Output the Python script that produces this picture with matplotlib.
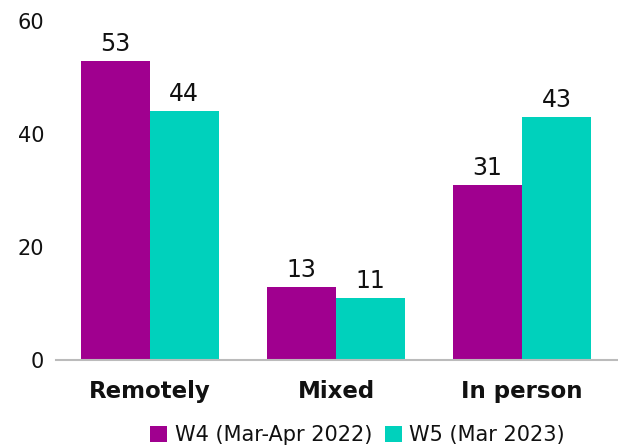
import matplotlib
matplotlib.use("Agg")
import matplotlib.pyplot as plt
import numpy as np

categories = ["Remotely", "Mixed", "In person"]
w4 = [53, 13, 31]
w5 = [44, 11, 43]
series_names = ["W4 (Mar-Apr 2022)", "W5 (Mar 2023)"]
yticks = [0, 20, 40, 60]

purple = "#A0008F"
teal = "#00D1BC"
txt = "#111111"

plt.rcParams['font.family'] = ['DejaVu Sans']

fig = plt.figure(figsize=(6.18, 4.48), dpi=100)
ax = fig.add_axes([0.0906, 0.196, 0.9094, 0.757])

x = np.arange(len(categories))
w = 0.37
b1 = ax.bar(x - w/2, w4, w, color=purple, label=series_names[0])
b2 = ax.bar(x + w/2, w5, w, color=teal, label=series_names[1])

for bars, vals in ((b1, w4), (b2, w5)):
    for rect, v in zip(bars, vals):
        ax.text(rect.get_x() + rect.get_width()/2, v + 0.9, str(v),
                ha='center', va='bottom', fontsize=17, color=txt)

ax.set_xlim(-0.505, 2.516)
ax.set_ylim(0, 60)
ax.set_yticks(yticks)
ax.set_yticklabels([str(t) for t in yticks], fontsize=15, color=txt)
ax.set_xticks(x)
ax.set_xticklabels(categories, fontsize=16.5, fontweight='bold', color=txt)
ax.tick_params(axis='y', length=0, pad=8.6)
ax.tick_params(axis='x', length=0, pad=14)
for s in ['top', 'right', 'left']:
    ax.spines[s].set_visible(False)
ax.spines['bottom'].set_color('#BBBBBB')
ax.spines['bottom'].set_linewidth(1.5)

fig.legend(handles=[b1, b2], loc='center', bbox_to_anchor=(0.5786, 0.028),
           ncol=2, frameon=False, fontsize=15, handlelength=0.8, handleheight=0.8,
           handletextpad=0.38, columnspacing=0.62, labelcolor=txt,
           borderpad=0, borderaxespad=0)

fig.savefig("out.png", dpi=100)
